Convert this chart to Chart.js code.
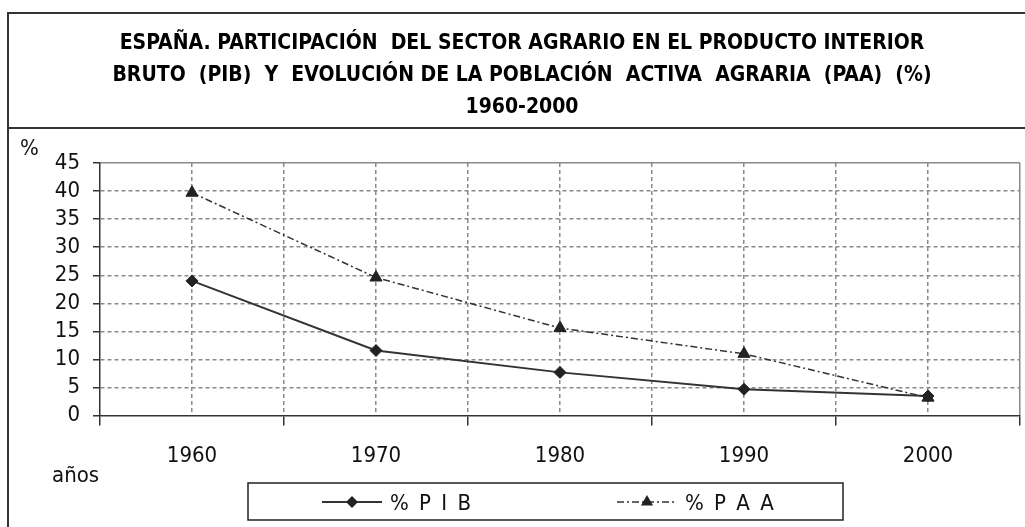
<!DOCTYPE html>
<html lang="es">
<head>
  <meta charset="UTF-8">
  <title>España. Sector agrario PIB y PAA 1960-2000</title>
  <script src="https://cdn.jsdelivr.net/npm/chart.js"></script>
  <style>
    body {
      margin: 0;
      background-color: #fff;
      overflow: hidden;
    }
    canvas {
      display: block;
    }
  </style>
</head>
<body>
  <canvas id="chart" width="1029" height="527"></canvas>

  <script>
    // datos
    const years = ['1960', '1970', '1980', '1990', '2000'];
    const pibValues = [24.0, 11.6, 7.7, 4.7, 3.5];
    const paaValues = [39.7, 24.6, 15.6, 11.0, 3.2];
    const seriesNames = ['% P I B', '% P A A'];
    const yMin = 0;
    const yMax = 45;
    const yStep = 5;
    const titleLines = [
      'ESPAÑA. PARTICIPACIÓN  DEL SECTOR AGRARIO EN EL PRODUCTO INTERIOR',
      'BRUTO  (PIB)  Y  EVOLUCIÓN DE LA POBLACIÓN  ACTIVA  AGRARIA  (PAA)  (%)',
      '1960-2000'
    ];
    const yUnit = '%';
    const xUnit = 'años';

    const FONT = "'Liberation Sans Narrow', 'DejaVu Sans Condensed', 'Liberation Sans', sans-serif";
    const GRID = '#8a8a8a';
    const AXIS = '#333';
    const DASH = [4, 3];
    const PAA_DASH = [7, 3, 2, 3];

    // marco, rotulos sueltos y leyenda con recuadro
    const framePlugin = {
      id: 'frame',
      afterDraw(chart) {
        const ctx = chart.ctx;
        ctx.save();
        ctx.strokeStyle = AXIS;
        ctx.lineWidth = 2;
        ctx.beginPath();
        ctx.moveTo(8, 527);
        ctx.lineTo(8, 13);
        ctx.lineTo(1029, 13);
        ctx.moveTo(8, 128);
        ctx.lineTo(1029, 128);
        ctx.stroke();

        ctx.fillStyle = '#111';
        ctx.textAlign = 'left';
        ctx.textBaseline = 'alphabetic';
        ctx.font = '22px ' + FONT;
        ctx.fillText(yUnit, 20, 155);
        ctx.fillText(xUnit, 52, 482);

        // leyenda
        ctx.lineWidth = 1.5;
        ctx.strokeStyle = '#222';
        ctx.strokeRect(248, 483, 595, 37);

        const items = [
          { x: 322, ds: chart.data.datasets[0], textX: 390 },
          { x: 617, ds: chart.data.datasets[1], textX: 685 }
        ];
        const ly = 502;
        items.forEach(it => {
          ctx.beginPath();
          ctx.setLineDash(it.ds.borderDash || []);
          ctx.lineWidth = it.ds.borderWidth;
          ctx.strokeStyle = it.ds.borderColor;
          ctx.moveTo(it.x, ly);
          ctx.lineTo(it.x + 60, ly);
          ctx.stroke();
          ctx.setLineDash([]);
          ctx.fillStyle = it.ds.pointBackgroundColor;
          const cx = it.x + 30;
          const r = it.ds.pointRadius;
          ctx.beginPath();
          if (it.ds.pointStyle === 'rectRot') {
            ctx.moveTo(cx, ly - r);
            ctx.lineTo(cx + r, ly);
            ctx.lineTo(cx, ly + r);
            ctx.lineTo(cx - r, ly);
          } else {
            ctx.moveTo(cx, ly - r);
            ctx.lineTo(cx + r * 0.87, ly + r * 0.5);
            ctx.lineTo(cx - r * 0.87, ly + r * 0.5);
          }
          ctx.closePath();
          ctx.fill();

          ctx.fillStyle = '#111';
          ctx.font = '22px ' + FONT;
          ctx.letterSpacing = '2px';
          ctx.fillText(it.ds.label, it.textX, 510);
          ctx.letterSpacing = '0px';
        });
        ctx.restore();
      }
    };

    const ctx = document.getElementById('chart').getContext('2d');
    new Chart(ctx, {
      type: 'line',
      data: {
        labels: years,
        datasets: [
          {
            label: seriesNames[0],
            data: pibValues,
            borderColor: '#333',
            borderWidth: 2,
            pointStyle: 'rectRot',
            pointRadius: 6,
            pointBackgroundColor: '#222',
            pointBorderColor: '#222',
            pointBorderWidth: 1,
            tension: 0,
            fill: false
          },
          {
            label: seriesNames[1],
            data: paaValues,
            borderColor: '#333',
            borderWidth: 1.5,
            borderDash: PAA_DASH,
            pointStyle: 'triangle',
            pointRadius: 7,
            pointBackgroundColor: '#222',
            pointBorderColor: '#222',
            pointBorderWidth: 1,
            tension: 0,
            fill: false
          }
        ]
      },
      options: {
        responsive: false,
        animation: false,
        devicePixelRatio: 1,
        layout: {
          padding: { left: 24, right: 9, top: 0, bottom: 41 }
        },
        plugins: {
          legend: { display: false },
          tooltip: { enabled: false },
          title: {
            display: true,
            text: titleLines,
            color: '#000',
            font: { family: FONT, size: 21, weight: 'bold', lineHeight: 32 / 21 },
            padding: { top: 28, bottom: 39 }
          }
        },
        scales: {
          x: {
            type: 'category',
            offset: true,
            grid: {
              offset: true,
              color: c => (c.index === 0 ? 'rgba(0,0,0,0)' : GRID),
              lineWidth: 1.5,
              tickLength: 10,
              tickColor: AXIS,
              tickWidth: 1.5
            },
            border: {
              display: true,
              color: AXIS,
              width: 1.5,
              dash: c => (c.tick ? DASH : [])
            },
            ticks: {
              color: '#111',
              font: { family: FONT, size: 22 },
              padding: 17,
              maxRotation: 0,
              autoSkip: false
            }
          },
          x2: {
            type: 'category',
            position: 'bottom',
            offset: true,
            grid: {
              offset: false,
              color: GRID,
              lineWidth: 1.5,
              drawTicks: false
            },
            border: { display: false, dash: DASH },
            ticks: { display: false }
          },
          y: {
            min: yMin,
            max: yMax,
            afterFit: s => { s.width = 76; },
            grid: {
              color: c => (c.tick && c.tick.value === yMin ? 'rgba(0,0,0,0)' : GRID),
              lineWidth: 1.5,
              tickLength: 7,
              tickColor: AXIS,
              tickWidth: 1.5
            },
            border: {
              display: true,
              color: AXIS,
              width: 1.5,
              dash: c => (c.tick && c.tick.value === yMax ? [] : DASH)
            },
            ticks: {
              stepSize: yStep,
              autoSkip: false,
              color: '#111',
              font: { family: FONT, size: 22, lineHeight: 1 },
              padding: 13
            }
          }
        }
      },
      plugins: [framePlugin]
    });
  </script>
</body>
</html>
